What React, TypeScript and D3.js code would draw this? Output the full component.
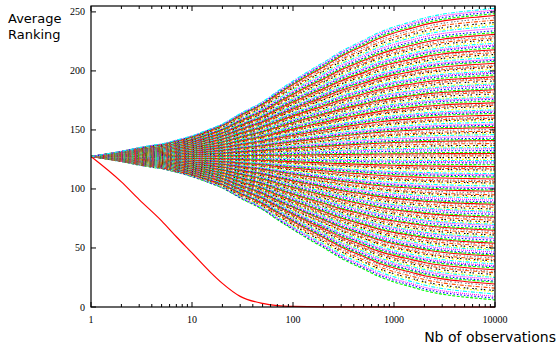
import React, { useEffect, useRef } from 'react';
import * as d3 from 'd3';

// x positions where the curves were sampled (number of observations)
const sampleX = [1, 1.5, 2, 3, 4, 5, 7, 10, 15, 20, 30, 50, 70, 100, 150, 200, 300, 500, 700, 1000, 1500, 2000, 3000, 5000, 7000, 10000];
// fraction of the final distance from 127.5 reached at each sampleX (read from the envelope)
const spread = [0, 0.02, 0.035, 0.06, 0.075, 0.085, 0.11, 0.14, 0.185, 0.22, 0.29, 0.37, 0.44, 0.51, 0.585, 0.635, 0.71, 0.785, 0.835, 0.875, 0.91, 0.935, 0.96, 0.98, 0.99, 1];
// average ranking reached at 10000 observations, one per item
const finalRanks = [
  6, 7.5, 9, 11, 13, 14, 16, 18, 19.5, 21, 22, 23.5, 25, 26, 27.5, 29, 30, 31.5, 33, 34, 35, 36.5, 38, 39, 40, 41.5,
  43, 44, 45, 46.5, 48, 49, 50, 51.5, 53, 54, 55, 56.5, 58, 59, 60, 61, 62.5, 64, 65, 66, 67.5, 69, 70, 71, 72, 73.5,
  75, 76, 77, 78.5, 80, 81, 82, 83, 84.5, 86, 87, 88, 89, 90.5, 92, 93, 94, 95, 96.5, 98, 99, 100, 101, 102.5, 104,
  105, 106, 107, 108.5, 110, 111, 112, 113, 114.5, 116, 117, 118, 119, 120.5, 122, 123, 124, 125, 126.5, 128, 129,
  130, 131, 132.5, 134, 135, 136, 137, 138.5, 140, 141, 142, 143, 144.5, 146, 147, 148, 149, 150.5, 152, 153, 154,
  155, 156.5, 158, 159, 160, 161, 162.5, 164, 165, 166, 167, 168.5, 170, 171, 172, 173, 174.5, 176, 177, 178, 179,
  180.5, 182, 183, 184, 185, 186.5, 188, 189, 190, 191.5, 193, 194, 195, 196.5, 198, 199, 200, 201.5, 203, 204, 205,
  206.5, 208, 209, 210, 211.5, 213, 214, 215.5, 217, 218, 219.5, 221, 222, 223.5, 225, 226.5, 228, 229.5, 231, 232.5,
  234, 236, 238, 239.5, 241, 243, 245, 247, 248.5, 250, 251.5, 253
];
// the one item that drops to rank 0
const dropX = [1, 2, 3, 5, 7, 10, 15, 20, 30, 50, 70, 100, 200, 10000];
const dropY = [127.5, 106, 91, 73, 59.5, 45.8, 30, 20, 9, 3, 1.2, 0.5, 0.1, 0];

const yTicks = [0, 50, 100, 150, 200, 250];
const xTicks = [1, 10, 100, 1000, 10000];

// gnuplot postscript line types
const palette = ['#ff0000', '#00ff00', '#0000ff', '#ff00ff', '#00ffff', '#ffff00', '#000000', '#ff4d00', '#808080'];
const dashes = ['', '3,1.5', '1.5,2', '1,1', '4,1.5,1,1.5', '2,2,1,2', '1.5,1.5,1.5,4', '1,1.5,4,1.5', '1.5,1.5,1.5,1.5,1.5,3'];

export default function App() {
  const ref = useRef<SVGSVGElement>(null);

  useEffect(() => {
    if (!ref.current) return;
    const svg = d3.select(ref.current);
    svg.selectAll('*').remove();

    const W = 558, H = 345;
    const left = 91, right = 495, top = 6, bottom = 307;

    const x = d3.scaleLog().domain([1, 10000]).range([left, right]);
    const y = d3.scaleLinear().domain([0, 255]).range([bottom, top]);

    svg.attr('width', W).attr('height', H).attr('viewBox', `0 0 ${W} ${H}`);

    const clip = svg.append('defs').append('clipPath').attr('id', 'plotclip');
    clip.append('rect').attr('x', left).attr('y', top).attr('width', right - left).attr('height', bottom - top + 1);

    const line = d3.line<[number, number]>()
      .x(d => x(d[0])).y(d => y(d[1]))
      .curve(d3.curveMonotoneX);

    const g = svg.append('g').attr('clip-path', 'url(#plotclip)');

    // frame
    svg.append('rect')
      .attr('x', left).attr('y', top).attr('width', right - left).attr('height', bottom - top)
      .attr('fill', 'none').attr('stroke', '#000').attr('stroke-width', 1.2);

    finalRanks.forEach((f, i) => {
      const pts: [number, number][] = sampleX.map((sx, k) => [sx, 127.5 + (f - 127.5) * spread[k]]);
      const t = (i + 1) % 9;
      g.append('path')
        .attr('d', line(pts) as string)
        .attr('fill', 'none')
        .attr('stroke', palette[t])
        .attr('stroke-width', 1.1)
        .attr('stroke-dasharray', dashes[t] || null);
    });

    g.append('path')
      .attr('d', line(dropX.map((d, i) => [d, dropY[i]] as [number, number])) as string)
      .attr('fill', 'none')
      .attr('stroke', '#ff0000')
      .attr('stroke-width', 1.2);

    // y ticks (both sides, inward)
    yTicks.forEach(v => {
      const yy = y(v);
      svg.append('line').attr('x1', left).attr('x2', left + 5).attr('y1', yy).attr('y2', yy).attr('stroke', '#000');
      svg.append('line').attr('x1', right).attr('x2', right - 5).attr('y1', yy).attr('y2', yy).attr('stroke', '#000');
      svg.append('text')
        .attr('x', left - 6).attr('y', yy + 3.5)
        .attr('text-anchor', 'end')
        .style('font-family', '"Liberation Serif", "DejaVu Serif", serif')
        .style('font-size', '10px')
        .text(v);
    });

    // x ticks: majors + minors on bottom and top
    const minors: number[] = [];
    [1, 10, 100, 1000].forEach(d => { for (let m = 2; m <= 9; m++) minors.push(d * m); });
    minors.forEach(v => {
      const xx = x(v);
      svg.append('line').attr('x1', xx).attr('x2', xx).attr('y1', bottom).attr('y2', bottom - 3).attr('stroke', '#000');
      svg.append('line').attr('x1', xx).attr('x2', xx).attr('y1', top).attr('y2', top + 3).attr('stroke', '#000');
    });
    xTicks.forEach(v => {
      const xx = x(v);
      svg.append('line').attr('x1', xx).attr('x2', xx).attr('y1', bottom).attr('y2', bottom - 5).attr('stroke', '#000');
      svg.append('line').attr('x1', xx).attr('x2', xx).attr('y1', top).attr('y2', top + 5).attr('stroke', '#000');
      svg.append('text')
        .attr('x', xx).attr('y', bottom + 16)
        .attr('text-anchor', 'middle')
        .style('font-family', '"Liberation Serif", "DejaVu Serif", serif')
        .style('font-size', '10px')
        .text(v);
    });

    const labelFont = '"DejaVu Sans", sans-serif';
    svg.append('text').attr('x', 8).attr('y', 23)
      .style('font-family', labelFont).style('font-size', '13px').text('Average');
    svg.append('text').attr('x', 8).attr('y', 39)
      .style('font-family', labelFont).style('font-size', '13px').text('Ranking');
    svg.append('text').attr('x', 556).attr('y', 342).attr('text-anchor', 'end')
      .style('font-family', labelFont).style('font-size', '14px').text('Nb of observations');
  }, []);

  return (
    <div style={{ position: 'absolute', left: 0, top: 0, width: 558, height: 345, background: '#fff' }}>
      <svg ref={ref} style={{ display: 'block' }}></svg>
    </div>
  );
}
